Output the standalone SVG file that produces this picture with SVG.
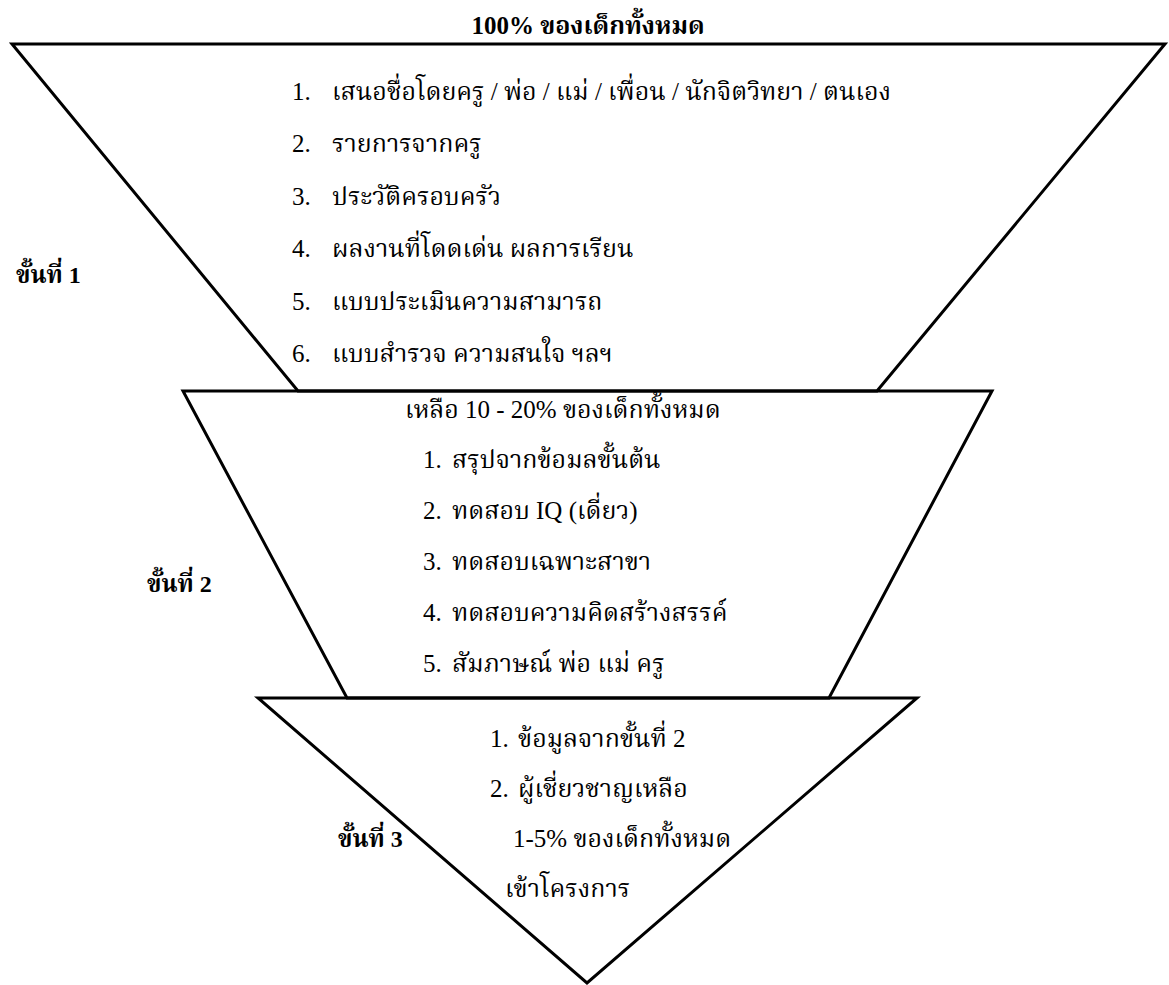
<svg xmlns="http://www.w3.org/2000/svg" width="1169" height="985" viewBox="0 0 1169 985">
<style>
.shape{fill:none;stroke:#000;stroke-width:3;stroke-linejoin:miter}
.t{font-family:"Liberation Serif","Noto Serif Thai","Noto Sans Thai",serif;font-size:25px;fill:#000}
.b{font-family:"Liberation Serif","Noto Serif Thai","Noto Sans Thai",serif;font-size:24px;font-weight:bold;fill:#000}
</style>
<rect width="1169" height="985" fill="#fff"/>
<g id="connectors"></g>
<g id="stage1">
<polygon class="shape" points="12,44 1165,44 877,391 298,391"/>
<text class="b" x="588" y="34" text-anchor="middle" style="font-size:25px">100% ของเด็กทั้งหมด</text>
<text class="t" x="292" y="100">1.</text><text class="t" x="332" y="100">เสนอชื่อโดยครู / พ่อ / แม่ / เพื่อน / นักจิตวิทยา / ตนเอง</text>
<text class="t" x="292" y="152">2.</text><text class="t" x="332" y="152">รายการจากครู</text>
<text class="t" x="292" y="205">3.</text><text class="t" x="332" y="205">ประวัติครอบครัว</text>
<text class="t" x="292" y="257">4.</text><text class="t" x="332" y="257">ผลงานที่โดดเด่น ผลการเรียน</text>
<text class="t" x="292" y="310">5.</text><text class="t" x="332" y="310">แบบประเมินความสามารถ</text>
<text class="t" x="292" y="362">6.</text><text class="t" x="332" y="362">แบบสำรวจ ความสนใจ ฯลฯ</text>
<text class="b" x="16" y="283">ขั้นที่ 1</text>
</g>
<g id="stage2">
<polygon class="shape" points="183,391 992,391 829,698 347,698"/>
<text class="t" x="405" y="418">เหลือ 10 - 20% ของเด็กทั้งหมด</text>
<text class="t" x="423" y="468">1.</text><text class="t" x="452" y="468">สรุปจากข้อมลขั้นต้น</text>
<text class="t" x="423" y="519">2.</text><text class="t" x="452" y="519">ทดสอบ IQ (เดี่ยว)</text>
<text class="t" x="423" y="570">3.</text><text class="t" x="452" y="570">ทดสอบเฉพาะสาขา</text>
<text class="t" x="423" y="621">4.</text><text class="t" x="452" y="621">ทดสอบความคิดสร้างสรรค์</text>
<text class="t" x="423" y="672">5.</text><text class="t" x="452" y="672">สัมภาษณ์ พ่อ แม่ ครู</text>
<text class="b" x="147" y="592">ขั้นที่ 2</text>
</g>
<g id="stage3">
<polygon class="shape" points="258,698 917,698 587,983"/>
<text class="t" x="490" y="747">1.</text><text class="t" x="518" y="747">ข้อมูลจากขั้นที่ 2</text>
<text class="t" x="490" y="797">2.</text><text class="t" x="518" y="797">ผู้เชี่ยวชาญเหลือ</text>
<text class="t" x="513" y="847">1-5% ของเด็กทั้งหมด</text>
<text class="t" x="505" y="897">เข้าโครงการ</text>
<text class="b" x="338" y="847">ขั้นที่ 3</text>
</g>
</svg>
